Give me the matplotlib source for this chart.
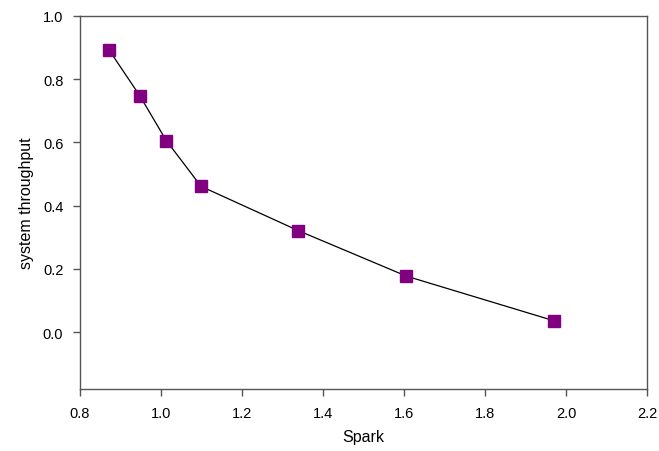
import matplotlib
matplotlib.use("Agg")
import matplotlib.pyplot as plt

spark = [0.872, 0.948, 1.013, 1.099, 1.339, 1.606, 1.970]
throughput = [0.892, 0.747, 0.606, 0.461, 0.321, 0.177, 0.036]
xticks = [0.8, 1.0, 1.2, 1.4, 1.6, 1.8, 2.0, 2.2]
yticks = [0.0, 0.2, 0.4, 0.6, 0.8, 1.0]

plt.rcParams['font.family'] = ['Liberation Sans', 'DejaVu Sans']
fig = plt.figure(figsize=(6.59, 4.52), dpi=100)
ax = fig.add_axes([80/659, 1-390/452, (647-80)/659, (390-17)/452])
ax.plot(spark, throughput, color='black', lw=0.9, marker='s', ms=9,
        mfc='#800080', mec='#800080', zorder=3)
ax.set_xlim(0.8, 2.2)
ax.set_ylim(-0.18, 1.0)
ax.set_xticks(xticks)
ax.set_xticklabels([f"{v:.1f}" for v in xticks])
ax.set_yticks(yticks)
ax.set_yticklabels([f"{v:.1f}" for v in yticks])
for s in ax.spines.values():
    s.set_color('#555555')
    s.set_linewidth(1.0)
ax.tick_params(direction='out', length=5, width=1, color='#555555',
               labelsize=10.5, pad=7)
ax.set_xlabel('Spark', fontsize=11.5, labelpad=7)
ax.set_ylabel('system throughput', fontsize=11.5, labelpad=6)
fig.savefig('out.png', dpi=100)
